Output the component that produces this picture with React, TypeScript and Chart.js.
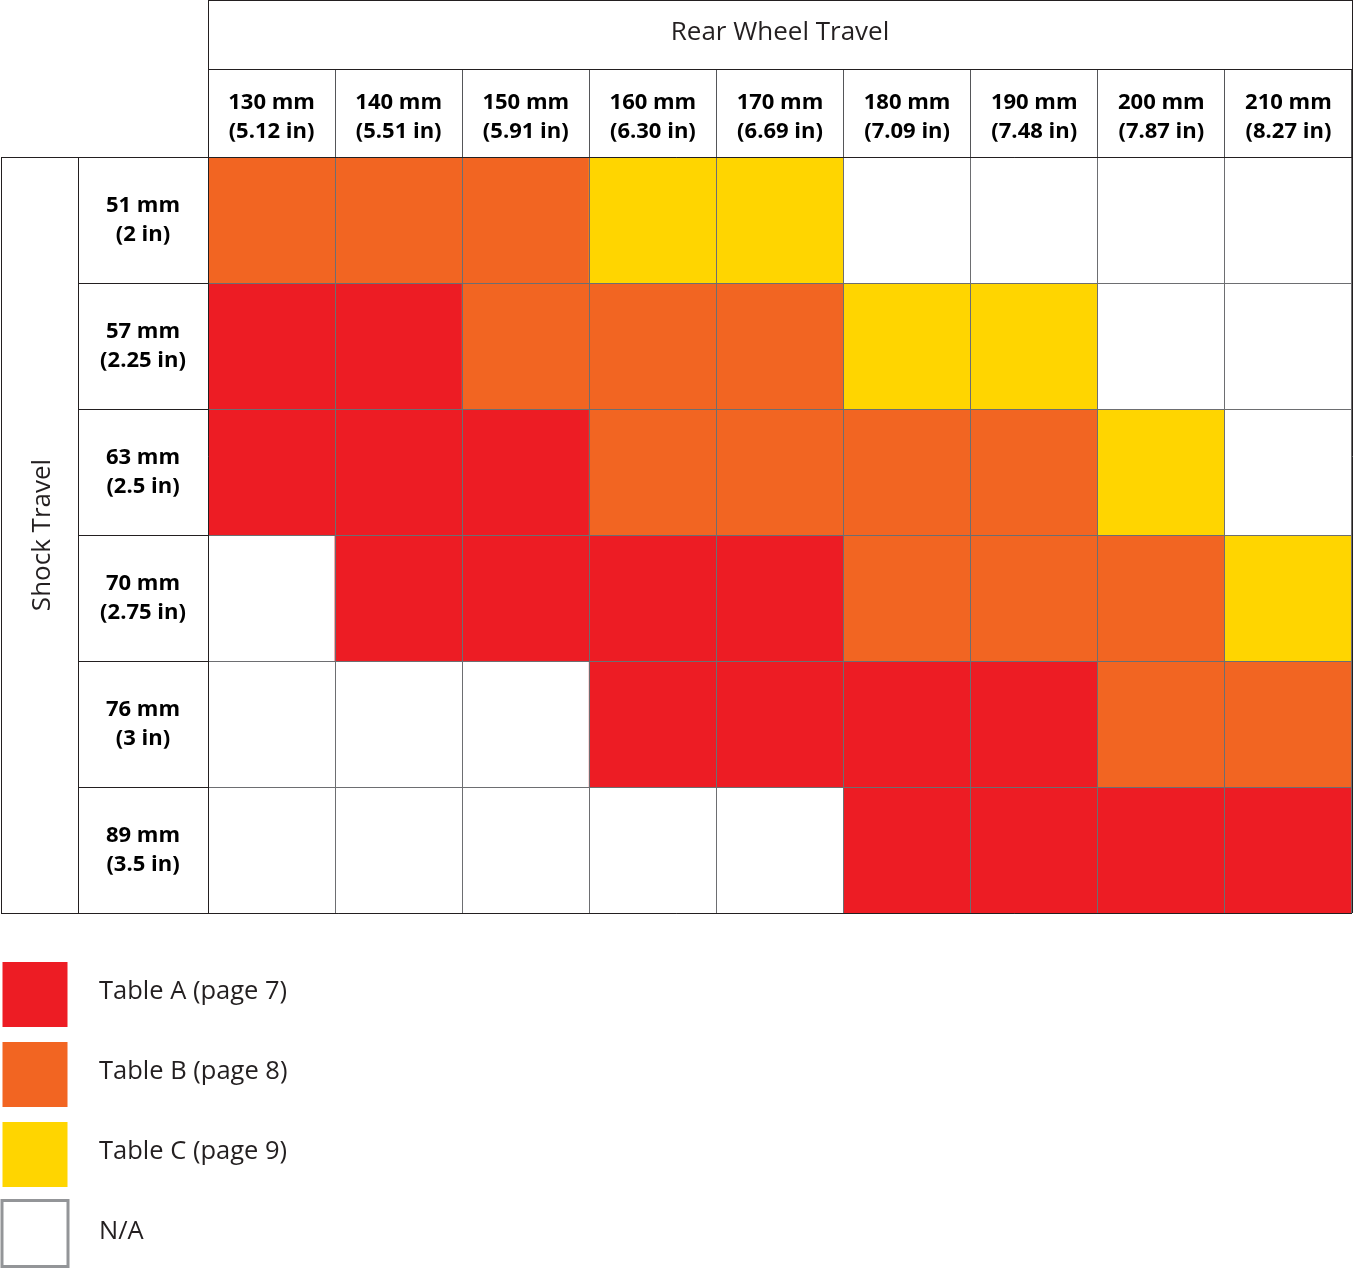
import React, { useEffect, useRef } from 'react';
import { Chart, registerables } from 'chart.js';

Chart.register(...registerables);

// ---------- data ----------
const rearWheelTravel: string[][] = [
  ['130 mm', '(5.12 in)'],
  ['140 mm', '(5.51 in)'],
  ['150 mm', '(5.91 in)'],
  ['160 mm', '(6.30 in)'],
  ['170 mm', '(6.69 in)'],
  ['180 mm', '(7.09 in)'],
  ['190 mm', '(7.48 in)'],
  ['200 mm', '(7.87 in)'],
  ['210 mm', '(8.27 in)'],
];
const shockTravel: string[][] = [
  ['51 mm', '(2 in)'],
  ['57 mm', '(2.25 in)'],
  ['63 mm', '(2.5 in)'],
  ['70 mm', '(2.75 in)'],
  ['76 mm', '(3 in)'],
  ['89 mm', '(3.5 in)'],
];
// table code per rear-wheel-travel column, one array per shock travel row
const shock51 = ['B', 'B', 'B', 'C', 'C', 'N', 'N', 'N', 'N'];
const shock57 = ['A', 'A', 'B', 'B', 'B', 'C', 'C', 'N', 'N'];
const shock63 = ['A', 'A', 'A', 'B', 'B', 'B', 'B', 'C', 'N'];
const shock70 = ['N', 'A', 'A', 'A', 'A', 'B', 'B', 'B', 'C'];
const shock76 = ['N', 'N', 'N', 'A', 'A', 'A', 'A', 'B', 'B'];
const shock89 = ['N', 'N', 'N', 'N', 'N', 'A', 'A', 'A', 'A'];
const shockRows = [shock51, shock57, shock63, shock70, shock76, shock89];

const tableCodes = ['A', 'B', 'C', 'N'];
const tableNames = ['Table A (page 7)', 'Table B (page 8)', 'Table C (page 9)', 'N/A'];

// ---------- style ----------
const COLORS: Record<string, string> = {
  A: '#ED1C24',
  B: '#F26522',
  C: '#FFD500',
  N: '#FFFFFF',
};
const FAMILY = '"Open Sans", "DejaVu Sans", sans-serif';
const INK = '#231f20';
const GRID = '#6d6e71';
const W = 1354;
const H = 1269;
const TITLE_H = 69;
const HEADER_H = 88;
const ROWLABEL_W = 130;
const SIDE_W = 208;
const LABEL_FONT = { family: FAMILY, size: 22, weight: 'bold' as const, lineHeight: 1.3 };
const TITLE_FONT = { family: FAMILY, size: 26, weight: 'normal' as const, lineHeight: 1.2 };

export default function App() {
  const canvasRef = useRef<HTMLCanvasElement | null>(null);

  useEffect(() => {
    const canvas = canvasRef.current;
    if (!canvas) return;

    // measure widest row label line so labels can be centred in their column
    const mctx = document.createElement('canvas').getContext('2d')!;
    mctx.font = `bold 22px ${FAMILY}`;
    let widest = 0;
    shockTravel.forEach((lines) => lines.forEach((l) => { widest = Math.max(widest, mctx.measureText(l).width); }));

    const tableBorders = {
      id: 'tableBorders',
      afterDraw(chart: any) {
        const { ctx, chartArea } = chart;
        const { left, right, top, bottom } = chartArea;
        const xs = chart.scales.x;
        const ys = chart.scales.y;
        const outerLeft = ys.left + 1;
        const sepX = left - ROWLABEL_W;
        const a = (v: number) => Math.round(v) + 0.5;
        ctx.save();
        ctx.strokeStyle = INK;
        ctx.lineWidth = 1;
        ctx.beginPath();
        // title box
        ctx.moveTo(left, 0.5); ctx.lineTo(right, 0.5);
        ctx.moveTo(left, a(xs.top)); ctx.lineTo(right, a(xs.top));
        // table top / bottom
        ctx.moveTo(outerLeft, a(top)); ctx.lineTo(right, a(top));
        ctx.moveTo(outerLeft, a(bottom)); ctx.lineTo(right, a(bottom));
        // verticals
        ctx.moveTo(a(left), 0); ctx.lineTo(a(left), bottom);
        ctx.moveTo(a(right), 0); ctx.lineTo(a(right), bottom);
        ctx.moveTo(a(outerLeft), top); ctx.lineTo(a(outerLeft), bottom);
        ctx.moveTo(a(sepX), top); ctx.lineTo(a(sepX), bottom);
        ctx.stroke();

        // legend
        const size = 65;
        const lx = outerLeft + 1.5;
        const top0 = bottom + 49;
        const step = 80;
        ctx.font = `25.5px ${FAMILY}`;
        ctx.textBaseline = 'alphabetic';
        ctx.textAlign = 'left';
        tableCodes.forEach((code, i) => {
          const y = top0 + i * step;
          if (code === 'N') {
            ctx.strokeStyle = '#939598';
            ctx.lineWidth = 3;
            ctx.strokeRect(lx - 0.5, y - 1.5, size + 1, size + 1);
          } else {
            ctx.fillStyle = COLORS[code];
            ctx.fillRect(lx, y, size, size);
          }
          ctx.fillStyle = INK;
          ctx.fillText(tableNames[i], 99, y + 37);
        });
        ctx.restore();
      },
    };

    const chart = new Chart(canvas, {
      type: 'bar',
      data: {
        labels: rearWheelTravel,
        datasets: shockRows.map((codes, r) => ({
          label: shockTravel[r].join(' '),
          data: codes.map(() => [r, r + 1]),
          backgroundColor: codes.map((c) => COLORS[c]),
          borderWidth: 0,
          barPercentage: 1,
          categoryPercentage: 1,
          grouped: false,
          inflateAmount: 0.5,
        })) as any,
      },
      options: {
        responsive: false,
        animation: false,
        events: [],
        layout: { padding: { left: 0, top: 0, right: W - 1352, bottom: H - 913 } },
        plugins: {
          legend: { display: false },
          tooltip: { enabled: false },
          title: {
            display: true,
            text: 'Rear Wheel Travel',
            fullSize: false,
            color: INK,
            font: TITLE_FONT,
            padding: { top: 17.4, bottom: TITLE_H - 31.2 - 17.4 },
          },
        },
        scales: {
          x: {
            type: 'category',
            position: 'top',
            offset: true,
            border: { display: false },
            grid: {
              display: true,
              z: 1,
              offset: true,
              color: GRID,
              lineWidth: 1,
              drawTicks: true,
              tickLength: HEADER_H,
              tickColor: '#555659',
            },
            ticks: {
              autoSkip: false,
              maxRotation: 0,
              minRotation: 0,
              color: '#000',
              font: LABEL_FONT,
              padding: -77,
            },
            afterFit(scale: any) { scale.height = HEADER_H; },
          },
          y: {
            type: 'linear',
            position: 'left',
            reverse: true,
            min: 0,
            max: shockTravel.length,
            border: { display: false },
            afterBuildTicks(scale: any) {
              const t: any[] = [];
              for (let i = 0; i <= shockTravel.length * 2; i++) t.push({ value: i / 2 });
              scale.ticks = t;
            },
            grid: {
              display: true,
              z: 1,
              color: (c: any) => (Number.isInteger(c.tick?.value) ? GRID : 'rgba(0,0,0,0)'),
              tickColor: (c: any) => (Number.isInteger(c.tick?.value) ? INK : 'rgba(0,0,0,0)'),
              lineWidth: 1,
              drawTicks: true,
              tickLength: ROWLABEL_W,
            },
            ticks: {
              autoSkip: false,
              crossAlign: 'center',
              color: '#000',
              font: LABEL_FONT,
              padding: -ROWLABEL_W / 2 - widest / 2,
              callback: (v: any) => (Number.isInteger(v) ? '' : shockTravel[Math.floor(v)]),
            },
            title: {
              display: true,
              text: 'Shock Travel',
              color: INK,
              font: TITLE_FONT,
              padding: { top: 27.4, bottom: 0 },
            },
            afterFit(scale: any) { scale.width = SIDE_W; },
          },
        },
      } as any,
      plugins: [tableBorders],
    });

    return () => chart.destroy();
  }, []);

  return (
    <div style={{ position: 'absolute', left: 0, top: 0, width: W, height: H, background: '#fff' }}>
      <canvas ref={canvasRef} width={W} height={H} style={{ display: 'block', width: W, height: H }} />
    </div>
  );
}
